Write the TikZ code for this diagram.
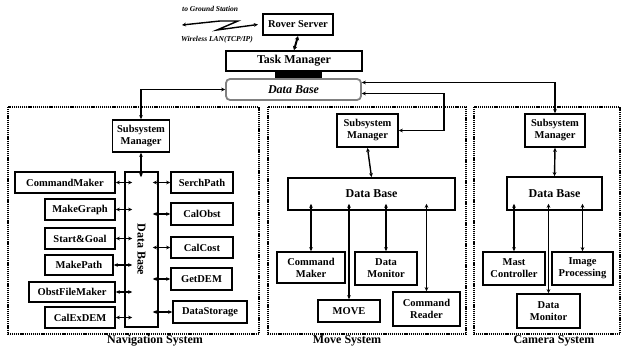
\documentclass[tikz,border=0pt]{standalone}
\usepackage{fontspec}
\setmainfont{Liberation Serif}
\usetikzlibrary{arrows.meta,calc}

\tikzset{
  blk/.style={draw, line width=1.8pt, inner sep=0pt, align=center,
    font=\bfseries\fontsize{10.5}{12}\selectfont},
  dbase/.style={blk, font=\bfseries\fontsize{12}{14}\selectfont},
  sysframe/.style={line width=1.8pt, dash pattern=on 1.2pt off 0.9pt},
  syslabel/.style={font=\bfseries\fontsize{12}{14}\selectfont, inner sep=0pt},
  link/.style={line width=1.4pt,
    {Stealth[length=4pt,width=3.8pt]}-{Stealth[length=4pt,width=3.8pt]}},
  note/.style={font=\bfseries\itshape\fontsize{7.5}{9}\selectfont, inner sep=0pt},
}

\begin{document}
\begin{tikzpicture}[x=1pt,y=-1pt]
\useasboundingbox (0,0) rectangle (627,347);

% ---- top level: server, task manager, shared data base ----
\node[blk, line width=2.2pt, minimum width=70, minimum height=21] (rover) at (298,24.5) {Rover Server};
\node[blk, font=\bfseries\fontsize{12}{14}\selectfont, minimum width=136, minimum height=20] (task) at (294,61) {Task Manager};
\node[fill=black, inner sep=0pt, minimum width=47, minimum height=8] (bar) at (298.5,75) {};
\node[draw=gray, line width=1.8pt, rounded corners=4pt, inner sep=0pt,
      minimum width=135, minimum height=21,
      font=\bfseries\itshape\fontsize{12}{14}\selectfont] (topdb) at (293.5,89.5) {Data Base};
\draw[line width=2pt, {Stealth[length=4pt,width=4.5pt]}-{Stealth[length=4pt,width=4.5pt]}] (rover.south) -- (task.north);

% wireless link to the ground station
\node[note, anchor=west] (gstxt) at (182,9) {to Ground Station};
\node[note, anchor=west] (lantxt) at (181,40) {Wireless LAN(TCP/IP)};
\coordinate (gs) at (182,25);
\draw[link] (gs) -- (220,21) -- (238,21) -- (217,30) -- ($(rover.west)+(-4,0)$);

% ---- subsystem frames ----
\draw[sysframe] (8,107) rectangle (259,334);
\draw[sysframe] (268,107) rectangle (466,334);
\draw[sysframe] (474,107) rectangle (620,334);
\node[syslabel] (navlbl) at (155,341) {Navigation System};
\node[syslabel] (movlbl) at (347,341) {Move System};
\node[syslabel] (camlbl) at (554,341) {Camera System};

% ---- navigation system ----
\node[blk, minimum width=57, minimum height=32] (nsm) at (141,136) {Subsystem\\Manager};
\node[draw, line width=1.8pt, minimum width=33, minimum height=155, inner sep=0pt] (ndb) at (141.5,249.5) {};
\node[rotate=-90, font=\bfseries\fontsize{12}{14}\selectfont, inner sep=0pt] (ndblbl) at (ndb.center) {Data Base};
\draw[link] (nsm.south) -- ($(nsm.south |- ndb.north)+(0,6)$);

\node[blk, minimum width=100, minimum height=21] (cm) at (65,182.5) {CommandMaker};
\node[blk, minimum width=70, minimum height=21] (mg) at (80,209.5) {MakeGraph};
\node[blk, minimum width=70, minimum height=21] (sg) at (80,238.5) {Start\&Goal};
\node[blk, minimum width=68, minimum height=20] (mp) at (79,265) {MakePath};
\node[blk, minimum width=86, minimum height=20] (of) at (72,292) {ObstFileMaker};
\node[blk, minimum width=70, minimum height=21] (ce) at (80,317.5) {CalExDEM};
\foreach \n in {cm,mg,sg,mp,of,ce}
  \draw[link] (\n.east) -- ($(ndb.west |- \n.east)+(8,0)$);

\node[blk, minimum width=62, minimum height=21] (sp) at (202,182.5) {SerchPath};
\node[blk, minimum width=62, minimum height=22] (co) at (202,214) {CalObst};
\node[blk, minimum width=62, minimum height=21] (cc) at (202,247.5) {CalCost};
\node[blk, minimum width=61, minimum height=22] (gd) at (201.5,279) {GetDEM};
\node[blk, minimum width=74, minimum height=22] (ds) at (210,312) {DataStorage};
\foreach \n in {sp,co,cc,gd,ds}
  \draw[link] ($(ndb.east |- \n.west)+(-6,0)$) -- (\n.west);

% ---- move system ----
\node[blk, minimum width=61, minimum height=33] (msm) at (367.5,130.5) {Subsystem\\Manager};
\node[dbase, minimum width=167, minimum height=32] (mdb) at (371.5,194) {Data Base};
\draw[link] (msm.south) -- (mdb.north);
\node[blk, minimum width=68, minimum height=31] (mcm) at (311,267.5) {Command\\Maker};
\node[blk, minimum width=62, minimum height=33] (mdm) at (386,268.5) {Data\\Monitor};
\node[blk, minimum width=62, minimum height=22] (mmv) at (349,311) {MOVE};
\node[blk, minimum width=67, minimum height=34] (mcr) at (426.5,309) {Command\\Reader};
\foreach \n in {mcm,mdm,mmv,mcr}
  \draw[link] ($(mdb.south -| \n.north)+(0,-7)$) -- (\n.north);

% ---- camera system ----
\node[blk, minimum width=60, minimum height=33] (csm) at (555,130.5) {Subsystem\\Manager};
\node[dbase, minimum width=95, minimum height=33] (cdb) at (554.5,193.5) {Data Base};
\draw[link] (csm.south) -- (cdb.north);
\node[blk, minimum width=62, minimum height=33] (cmc) at (514,268.5) {Mast\\Controller};
\node[blk, minimum width=61, minimum height=33] (cip) at (582.5,268.5) {Image\\Processing};
\node[blk, minimum width=63, minimum height=34] (cdm) at (548.5,311) {Data\\Monitor};
\foreach \n in {cmc,cip,cdm}
  \draw[link] ($(cdb.south -| \n.north)+(0,-7)$) -- (\n.north);

% ---- links from the shared data base to each subsystem manager ----
\draw[link] (topdb.west) -| (nsm.north);
\draw[link] ($(topdb.east)+(0,-7)$) -| (csm.north);
\draw[link] ($(topdb.east)+(0,4)$) -| ($(msm.east)+(45,0)$) -- (msm.east);
\end{tikzpicture}
\end{document}
